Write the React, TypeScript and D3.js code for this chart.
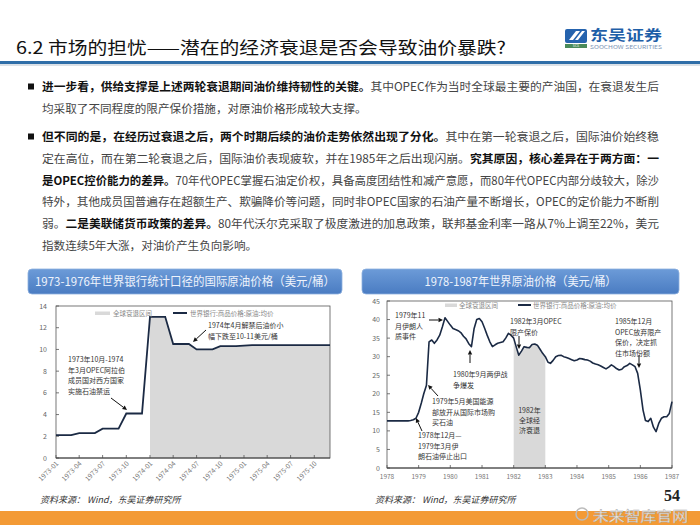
import React from "react";
import * as d3 from "d3";

// ---------- DATA ----------
const leftStart = [1973, 0];
const leftValues = [2.1, 2.1, 2.1, 2.3, 2.3, 2.3, 2.7, 2.7, 2.7, 4.1, 4.1, 4.1,
  13.0, 13.0, 13.0, 10.5, 10.5, 10.5, 10.0, 10.0, 10.0, 10.3, 10.3, 10.3,
  10.35, 10.4, 10.4, 10.4, 10.4, 10.4, 10.4, 10.4, 10.4, 10.4, 10.4, 10.4];
const leftRecession = ["1974-01", "1975-12"];
const leftYTicks = [0, 2, 4, 6, 8, 10, 12, 14];

const rightStart = [1978, 0];
const rightValues = [
  12.7, 12.7, 12.7, 12.7, 12.7, 12.7, 12.7, 12.7, 12.7, 12.8, 13.0, 13.4,
  15.0, 17.5, 20.0, 22.3, 34.0, 34.5, 33.6, 34.5, 35.8, 38.0, 40.5, 39.5,
  38.5, 37.6, 37.3, 37.0, 36.5, 35.5, 34.8, 33.5, 32.7, 37.5, 40.0, 40.3,
  39.4, 37.6, 35.8, 34.0, 32.7, 33.2, 33.6, 33.8, 34.0, 35.0, 36.3, 35.8,
  35.0, 32.5, 30.4, 31.5, 32.7, 32.5, 32.4, 33.3, 33.4, 33.1, 32.0, 30.9,
  30.0, 28.5, 28.2, 29.0, 30.0, 30.3, 30.4, 30.0, 29.8, 29.5, 29.2, 28.9,
  29.1, 29.5, 29.4, 29.2, 29.1, 28.8, 28.3, 28.0, 27.8, 27.5, 27.1, 26.7,
  27.2, 27.8, 27.4, 26.8, 26.4, 26.6, 27.3, 27.6, 28.2, 27.8, 27.3, 25.5,
  21.0, 15.6, 12.8, 12.5, 13.4, 11.0, 9.8, 12.0, 13.4, 13.8, 13.8, 14.7,
  17.9];
const rightRecession = ["1982-01", "1983-01"];
const rightYTicks = [0, 5, 10, 15, 20, 25, 30, 35, 40, 45];
const rightXTicks = [1978, 1979, 1980, 1981, 1982, 1983, 1984, 1985, 1986, 1987];

const legendArea = "全球衰退区间";
const legendLine = "世界银行:商品价格:原油:均价";

type Seg = { t: string; b?: boolean };
const bullets: Seg[][][] = [
  [
    [{ t: "进一步看，供给支撑是上述两轮衰退期间油价维持韧性的关键。", b: true }, { t: "其中OPEC作为当时全球最主要的产油国，在衰退发生后" }],
    [{ t: "均采取了不同程度的限产保价措施，对原油价格形成较大支撑。" }],
  ],
  [
    [{ t: "但不同的是，在经历过衰退之后，两个时期后续的油价走势依然出现了分化。", b: true }, { t: "其中在第一轮衰退之后，国际油价始终稳" }],
    [{ t: "定在高位，而在第二轮衰退之后，国际油价表现疲软，并在1985年之后出现闪崩。" }, { t: "究其原因，核心差异在于两方面：一", b: true }],
    [{ t: "是OPEC控价能力的差异。", b: true }, { t: "70年代OPEC掌握石油定价权，具备高度团结性和减产意愿，而80年代OPEC内部分歧较大，除沙" }],
    [{ t: "特外，其他成员国普遍存在超额生产、欺骗降价等问题，同时非OPEC国家的石油产量不断增长，OPEC的定价能力不断削" }],
    [{ t: "弱。" }, { t: "二是美联储货币政策的差异。", b: true }, { t: "80年代沃尔克采取了极度激进的加息政策，联邦基金利率一路从7%上调至22%，美元" }],
    [{ t: "指数连续5年大涨，对油价产生负向影响。" }],
  ],
];
const fullLine = [[true, false], [true, true, true, true, true, false]];

const leftNotes = [
  { lines: ["1974年4月解禁后油价小", "幅下跌至10-11美元/桶"], x: 208, y: 328, arrow: [206, 330, 193, 342] },
  { lines: ["1973年10月-1974", "年3月OPEC阿拉伯", "成员国对西方国家", "实施石油禁运"], x: 68, y: 362, arrow: [111, 398, 127, 410] },
];
const rightNotes = [
  { lines: ["1979年11", "月伊朗人", "质事件"], x: 395, y: 318, arrow: [429, 320, 443, 320] },
  { lines: ["1980年9月两伊战", "争爆发"], x: 453, y: 377, arrow: [470, 363, 470, 350] },
  { lines: ["1979年5月美国能源", "部放开从国际市场购", "买石油"], x: 432, y: 404, arrow: [438, 396, 428, 385] },
  { lines: ["1978年12月—", "1979年3月伊", "朗石油停止出口"], x: 418, y: 438, arrow: [422, 431, 416, 418] },
  { lines: ["1982年3月OPEC", "限产保价"], x: 510, y: 324, arrow: [519, 336, 519, 349] },
  { lines: ["1985年12月", "OPEC放弃限产", "保价，决定抓", "住市场份额"], x: 615, y: 324, arrow: [639, 355, 639, 368] },
];
const recessionLabel = ["1982年", "全球经", "济衰退"];

const FONT = "'Noto Sans CJK SC', 'Noto Sans', sans-serif";
const SERIF = "'Liberation Serif', 'DejaVu Serif', serif";

function Arrow({ a }: { a: number[] }) {
  const [x1, y1, x2, y2] = a;
  const ang = Math.atan2(y2 - y1, x2 - x1);
  const L = 4.5, W = 2.2;
  const bx = x2 - L * Math.cos(ang), by = y2 - L * Math.sin(ang);
  const p = [
    [x2, y2],
    [bx + W * Math.sin(ang), by - W * Math.cos(ang)],
    [bx - W * Math.sin(ang), by + W * Math.cos(ang)],
  ];
  return (
    <g>
      <line x1={x1} y1={y1} x2={bx} y2={by} stroke="#111" strokeWidth={1} />
      <polygon points={p.map((q) => q.join(",")).join(" ")} fill="#111" />
    </g>
  );
}

function Note({ n }: { n: { lines: string[]; x: number; y: number; arrow: number[] } }) {
  return (
    <g>
      {n.lines.map((l, i) => (
        <text key={i} x={n.x} y={n.y + i * 10.5} fontSize={7} fill="#333" fontFamily={FONT}>{l}</text>
      ))}
      <Arrow a={n.arrow} />
    </g>
  );
}

function monthDates(start: number[], n: number) {
  return d3.range(n).map((i) => new Date(start[0], start[1] + i, 1));
}
const parseM = d3.timeParse("%Y-%m");

function LeftChart() {
  const dates = monthDates(leftStart, leftValues.length);
  const x = d3.scaleTime().domain([dates[0], dates[dates.length - 1]]).range([56, 330]);
  const y = d3.scaleLinear().domain([0, 14]).range([458, 306]);
  const data = dates.map((d, i) => ({ d, v: leftValues[i] }));
  const r0 = parseM(leftRecession[0])!, r1 = parseM(leftRecession[1])!;
  const rec = data.filter((p) => p.d >= r0 && p.d <= r1);
  const area = d3.area<any>().x((p) => x(p.d)).y0(y(0)).y1((p) => y(p.v))(rec)!;
  const line = d3.line<any>().x((p) => x(p.d)).y((p) => y(p.v))(data)!;
  const xt = d3.timeMonth.every(3)!.range(dates[0], d3.timeMonth.offset(dates[dates.length - 1], 1));
  const fmt = d3.timeFormat("%Y-%m");
  return (
    <g>
      <path d={area} fill="#D9D9D9" />
      <rect x={56} y={306} width={274} height={152} fill="none" stroke="#555" strokeWidth={0.8} />
      {leftYTicks.map((t) => (
        <g key={t}>
          <line x1={56} x2={59} y1={y(t)} y2={y(t)} stroke="#555" strokeWidth={0.8} />
          <text x={47} y={y(t) + 2.5} fontSize={7} fill="#666" textAnchor="end" fontFamily={FONT}>{t}</text>
        </g>
      ))}
      {xt.map((t, i) => (
        <g key={i}>
          <line x1={x(t)} x2={x(t)} y1={458} y2={455} stroke="#555" strokeWidth={0.8} />
          <text transform={`translate(${x(t) + 3},${464}) rotate(-45)`} fontSize={6.8} fill="#777" textAnchor="end" fontFamily={FONT}>{fmt(t)}</text>
        </g>
      ))}
      <line x1={56} x2={330} y1={458} y2={458} stroke="#444" strokeWidth={1} />
      <path d={line} fill="none" stroke="#1B2A44" strokeWidth={1.8} />
      <rect x={95} y={311.5} width={15} height={3.5} fill="#D9D9D9" />
      <text x={113} y={315.5} fontSize={6.5} fill="#888" fontFamily={FONT}>{legendArea}</text>
      <line x1={173} x2={187} y1={313} y2={313} stroke="#1B2A44" strokeWidth={2} />
      <text x={190} y={315.5} fontSize={6.5} fill="#888" fontFamily={FONT}>{legendLine}</text>
      {leftNotes.map((n, i) => <Note key={i} n={n} />)}
    </g>
  );
}

function RightChart() {
  const dates = monthDates(rightStart, rightValues.length);
  const x = d3.scaleTime().domain([new Date(1978, 0, 1), new Date(1987, 0, 1)]).range([387, 672]);
  const y = d3.scaleLinear().domain([0, 45]).range([468, 301]);
  const data = dates.map((d, i) => ({ d, v: rightValues[i] }));
  const r0 = parseM(rightRecession[0])!, r1 = parseM(rightRecession[1])!;
  const rec = data.filter((p) => p.d >= r0 && p.d <= r1);
  const area = d3.area<any>().x((p) => x(p.d)).y0(y(0)).y1((p) => y(p.v))(rec)!;
  const line = d3.line<any>().x((p) => x(p.d)).y((p) => y(p.v))(data)!;
  const cx = (x(r0) + x(r1)) / 2;
  return (
    <g>
      <path d={area} fill="#D9D9D9" />
      <rect x={387} y={301} width={285} height={167} fill="none" stroke="#555" strokeWidth={0.8} />
      {rightYTicks.map((t) => (
        <g key={t}>
          <line x1={387} x2={390} y1={y(t)} y2={y(t)} stroke="#555" strokeWidth={0.8} />
          <text x={380} y={y(t) + 2.5} fontSize={7} fill="#666" textAnchor="end" fontFamily={FONT}>{t}</text>
        </g>
      ))}
      {rightXTicks.map((t) => {
        const xx = x(new Date(t, 0, 1));
        return (
          <g key={t}>
            <line x1={xx} x2={xx} y1={468} y2={465} stroke="#555" strokeWidth={0.8} />
            <text x={xx} y={479} fontSize={6.5} fill="#777" textAnchor="middle" fontFamily={FONT}>{t}</text>
          </g>
        );
      })}
      <line x1={387} x2={672} y1={468} y2={468} stroke="#444" strokeWidth={1} />
      <path d={line} fill="none" stroke="#1B2A44" strokeWidth={1.6} strokeLinejoin="round" />
      <rect x={445} y={303.5} width={12} height={3.5} fill="#D9D9D9" />
      <text x={459} y={307.5} fontSize={6.5} fill="#888" fontFamily={FONT}>{legendArea}</text>
      <line x1={518} x2={531} y1={305} y2={305} stroke="#1B2A44" strokeWidth={2} />
      <text x={533} y={307.5} fontSize={6.5} fill="#888" fontFamily={FONT}>{legendLine}</text>
      {recessionLabel.map((l, i) => (
        <text key={i} x={cx} y={413 + i * 10} fontSize={7} fill="#333" textAnchor="middle" fontFamily={FONT}>{l}</text>
      ))}
      {rightNotes.map((n, i) => <Note key={i} n={n} />)}
    </g>
  );
}

function TitleBox({ x, w, text, tl }: { x: number; w: number; text: string; tl: number }) {
  return (
    <g>
      <rect x={x} y={269} width={w} height={25} rx={4} fill="url(#tb)" stroke="#8DB0DE" strokeWidth={0.8} />
      <text x={x + w / 2} y={286} fontSize={12} fill="#EEF3FC" textAnchor="middle" fontFamily={FONT}
        textLength={tl} lengthAdjust="spacingAndGlyphs">{text}</text>
    </g>
  );
}

export default function App() {
  const lineY = [[91, 113], [141, 163, 184.5, 206, 228, 249.5]];
  return (
    <svg width={700} height={525} style={{ position: "absolute", left: 0, top: 0, background: "#fff" }}>
      <defs>
        <linearGradient id="tb" x1="0" y1="0" x2="0" y2="1">
          <stop offset="0" stopColor="#6C9BD8" />
          <stop offset="1" stopColor="#4A7CC2" />
        </linearGradient>
      </defs>
      <rect x={0} y={0} width={700} height={525} fill="#fff" />
      {/* Header */}
      <text x={16} y={54} fontSize={17} fill="#111" fontFamily={FONT} fontWeight={400} textLength={490} lengthAdjust="spacingAndGlyphs">
        6.2 市场的担忧——潜在的经济衰退是否会导致油价暴跌?
      </text>
      <rect x={0} y={61} width={700} height={3} fill="#2F6EA8" />
      <rect x={0} y={64.5} width={700} height={1} fill="#B8C4D0" />
      {/* Logo */}
      <rect x={565} y={29} width={22} height={14} rx={2} fill="#2563AE" />
      <path d="M569,40 L576,31 L580,31 L573,40 Z M575,40 L582,31 L585,31 L578,40 Z" fill="#fff" />
      <rect x={565} y={44} width={22} height={4} fill="#4A8A5A" />
      <text x={576} y={47.3} fontSize={3.5} fill="#fff" textAnchor="middle" fontFamily={FONT}>SCS</text>
      <text x={590} y={40} fontSize={14} fill="#1F5FA8" fontWeight={700} fontFamily={FONT} textLength={72} lengthAdjust="spacingAndGlyphs">东吴证券</text>
      <text x={590} y={49} fontSize={5} fill="#7A93B5" fontFamily={FONT} textLength={72} lengthAdjust="spacingAndGlyphs">SOOCHOW SECURITIES</text>
      {/* Body text */}
      {bullets.map((b, bi) => (
        <g key={bi}>
          <rect x={28} y={lineY[bi][0] - 7.5} width={6} height={6} fill="#111" />
          {b.map((segs, li) => (
            <text key={li} x={42} y={lineY[bi][li]} fontSize={11.6} fontFamily={FONT}
              {...(fullLine[bi][li] ? { textLength: 617, lengthAdjust: "spacingAndGlyphs" } : {})}>
              {segs.map((s, si) => (
                <tspan key={si} fill={s.b ? "#111" : "#444"} fontWeight={s.b ? 700 : 400}>{s.t}</tspan>
              ))}
            </text>
          ))}
        </g>
      ))}
      {/* Charts */}
      <TitleBox x={28} w={314} text="1973-1976年世界银行统计口径的国际原油价格（美元/桶）" tl={300} />
      <TitleBox x={362} w={317} text="1978-1987年世界原油价格（美元/桶）" tl={192} />
      <LeftChart />
      <RightChart />
      <text x={40} y={503} fontSize={9} fill="#333" fontStyle="italic" fontFamily={FONT}>资料来源： Wind，东吴证券研究所</text>
      <text x={375} y={503} fontSize={9} fill="#333" fontStyle="italic" fontFamily={FONT}>资料来源： Wind，东吴证券研究所</text>
      <text x={664} y={501} fontSize={16} fill="#222" fontFamily={SERIF} fontWeight={700}>54</text>
      {/* Footer */}
      <rect x={0} y={511} width={700} height={14} fill="#F39A35" />
      <circle cx={582} cy={514} r={6} fill="none" stroke="#bbb" strokeWidth={1.5} />
      <text x={593} y={521} fontSize={14} fill="rgba(255,255,255,0.85)" stroke="#aaa" strokeWidth={0.4} fontFamily={FONT} textLength={95} lengthAdjust="spacingAndGlyphs">未来智库官网</text>
    </svg>
  );
}
